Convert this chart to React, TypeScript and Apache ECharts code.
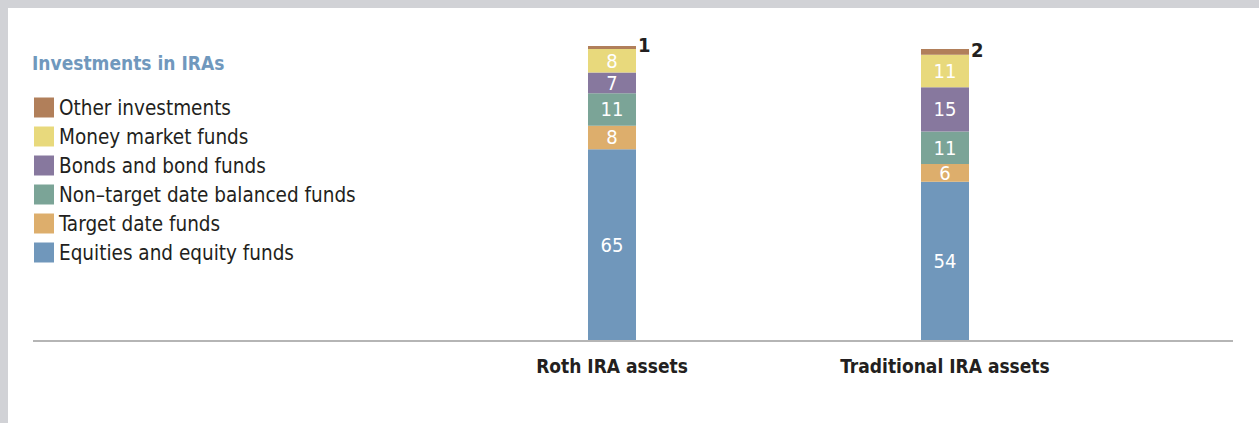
import React, { useEffect, useRef } from "react";
import * as echarts from "echarts";

const categories = ["Roth IRA assets", "Traditional IRA assets"];
const equities = [65, 54];
const targetDate = [8, 6];
const nonTarget = [11, 11];
const bonds = [7, 15];
const moneyMarket = [8, 11];
const other = [1, 2];

const seriesNames = [
  "Equities and equity funds",
  "Target date funds",
  "Non–target date balanced funds",
  "Bonds and bond funds",
  "Money market funds",
  "Other investments",
];
const seriesData = [equities, targetDate, nonTarget, bonds, moneyMarket, other];
const colors = ["#7097bb", "#ddae6c", "#7ba497", "#87789e", "#e8d97c", "#b17f5a"];

const FONT = "'DejaVu Sans Condensed', 'Liberation Sans Narrow', 'Roboto', sans-serif";

export default function App() {
  const ref = useRef<HTMLDivElement>(null);
  useEffect(() => {
    document.body.style.margin = "0";
    const chart = echarts.init(ref.current!, null, { renderer: "svg" });
    const series = seriesNames.map((name, i) => {
      const isOther = i === seriesNames.length - 1;
      return {
        name,
        type: "bar",
        stack: "total",
        barWidth: 48,
        data: seriesData[i],
        itemStyle: { color: colors[i] },
        label: isOther
          ? {
              show: true,
              position: "right",
              distance: 2,
              offset: [0, -2],
              color: "#231f20",
              fontSize: 20,
              fontWeight: 600,
              fontFamily: FONT,
            }
          : {
              show: true,
              position: "inside",
              color: "#ffffff",
              fontSize: 20,
              fontFamily: FONT,
            },
      };
    });
    chart.setOption({
      animation: false,
      textStyle: { fontFamily: FONT },
      title: {
        text: "Investments in IRAs",
        left: 27,
        top: 48,
        textStyle: { color: "#7098bd", fontSize: 19, fontWeight: 600, fontFamily: FONT },
      },
      legend: {
        orient: "vertical",
        left: 29,
        top: 92,
        itemWidth: 20,
        itemHeight: 20,
        itemGap: 8,
        icon: "rect",
        data: [...seriesNames].reverse(),
        textStyle: { color: "#231f20", fontSize: 20.5, fontFamily: FONT },
      },
      grid: { left: 445.5, width: 666, top: 46, bottom: 82 },
      xAxis: {
        type: "category",
        data: categories,
        axisLine: { show: false },
        axisTick: { show: false },
        axisLabel: {
          color: "#231f20",
          fontSize: 19,
          fontWeight: 600,
          margin: 15,
          fontFamily: FONT,
        },
      },
      yAxis: { type: "value", min: 0, max: 100, show: false },
      series,
      graphic: [
        { type: "rect", shape: { x: 0, y: 0, width: 1259, height: 8 }, style: { fill: "#d1d2d6" } },
        { type: "rect", shape: { x: 0, y: 0, width: 8, height: 423 }, style: { fill: "#d1d2d6" } },
        {
          type: "line",
          shape: { x1: 33, y1: 341, x2: 1233, y2: 341 },
          style: { stroke: "#b5b5b5", lineWidth: 2 },
          z: 10,
        },
      ],
    });
    return () => chart.dispose();
  }, []);
  return <div ref={ref} style={{ width: 1259, height: 423, background: "#ffffff" }} />;
}
